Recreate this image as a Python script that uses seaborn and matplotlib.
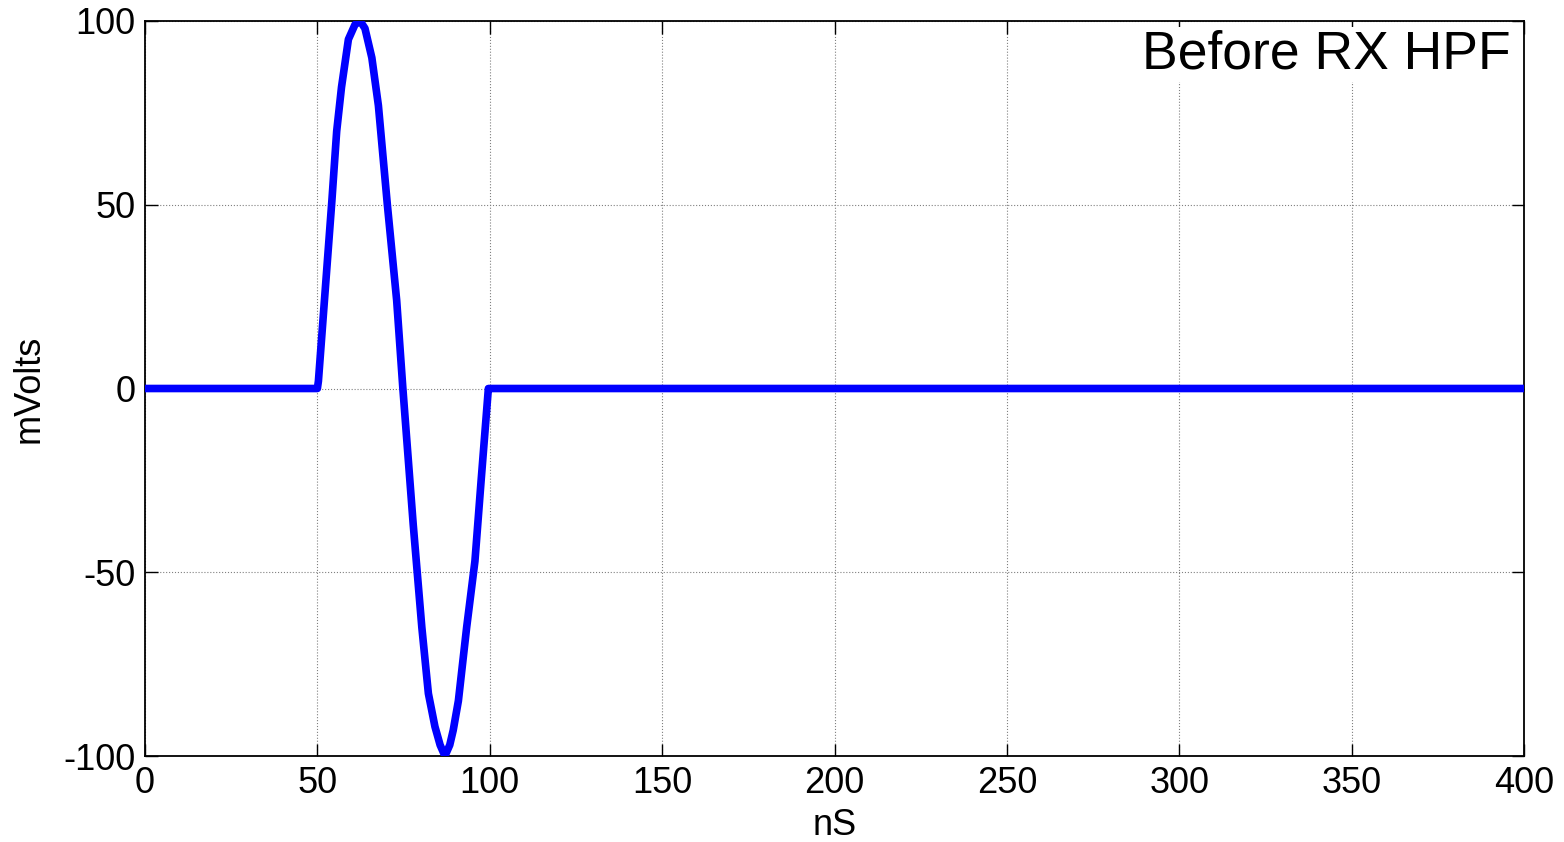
import matplotlib
matplotlib.use("Agg")
import matplotlib.pyplot as plt
import seaborn as sns
import pandas as pd

# Received pulse before the RX high-pass filter: one cycle between 50 and 100 ns
time_ns = [0, 50, 50.3, 54.2, 55.6, 57.0, 59.0, 60.9, 62.4, 63.8, 65.8, 67.7,
           70.3, 73.0, 74.8, 77.8, 80.3, 82.2, 84.1, 85.6, 87.0, 88.4, 89.4,
           90.9, 93.3, 95.7, 97.5, 99.6, 100, 400]
millivolts = [0, 0, 2, 51, 70, 82, 95, 99, 100, 98, 90, 77,
              50, 24, 0, -37, -65, -83, -92, -97, -100, -97, -93,
              -85, -65, -47, -25, 0, 0, 0]

x_ticks = [0, 50, 100, 150, 200, 250, 300, 350, 400]
y_ticks = [-100, -50, 0, 50, 100]

sns.set_style("ticks")
plt.rcParams["font.family"] = ["Liberation Sans", "DejaVu Sans"]
plt.rcParams["text.color"] = "black"
plt.rcParams["axes.labelcolor"] = "black"
plt.rcParams["xtick.color"] = "black"
plt.rcParams["ytick.color"] = "black"

df = pd.DataFrame({"t": time_ns, "v": millivolts})

fig = plt.figure(figsize=(15.64, 8.42), dpi=100)
ax = fig.add_axes([145 / 1564, 1 - 756 / 842, (1524 - 145) / 1564, (756 - 21) / 842])

sns.lineplot(data=df, x="t", y="v", ax=ax, color="#0000ff", linewidth=5.5,
             estimator=None, sort=False, solid_joinstyle="round", zorder=3)

ax.set_xlim(0, 400)
ax.set_ylim(-100, 100)
ax.set_xticks(x_ticks)
ax.set_yticks(y_ticks)
ax.set_xticklabels([str(v) for v in x_ticks])
ax.set_yticklabels([str(v) for v in y_ticks])
ax.grid(True, linestyle=":", color="0.5", linewidth=0.8)
ax.tick_params(direction="in", length=9, width=1, labelsize=26, labelcolor="black",
               color="black", top=True, right=True, pad=7)
for s in ax.spines.values():
    s.set_visible(True)
    s.set_color("black")
    s.set_linewidth(1.3)

ax.set_xlabel("nS", fontsize=26, labelpad=5, color="black")
ax.set_ylabel("mVolts", fontsize=26, labelpad=12, color="black")

ax.text(0.99, 0.988, "Before RX HPF", transform=ax.transAxes, ha="right", va="top",
        fontsize=38.5, color="black", zorder=4,
        bbox=dict(boxstyle="square,pad=0.05", facecolor="white", edgecolor="none"))

fig.savefig("out.png", dpi=100)
